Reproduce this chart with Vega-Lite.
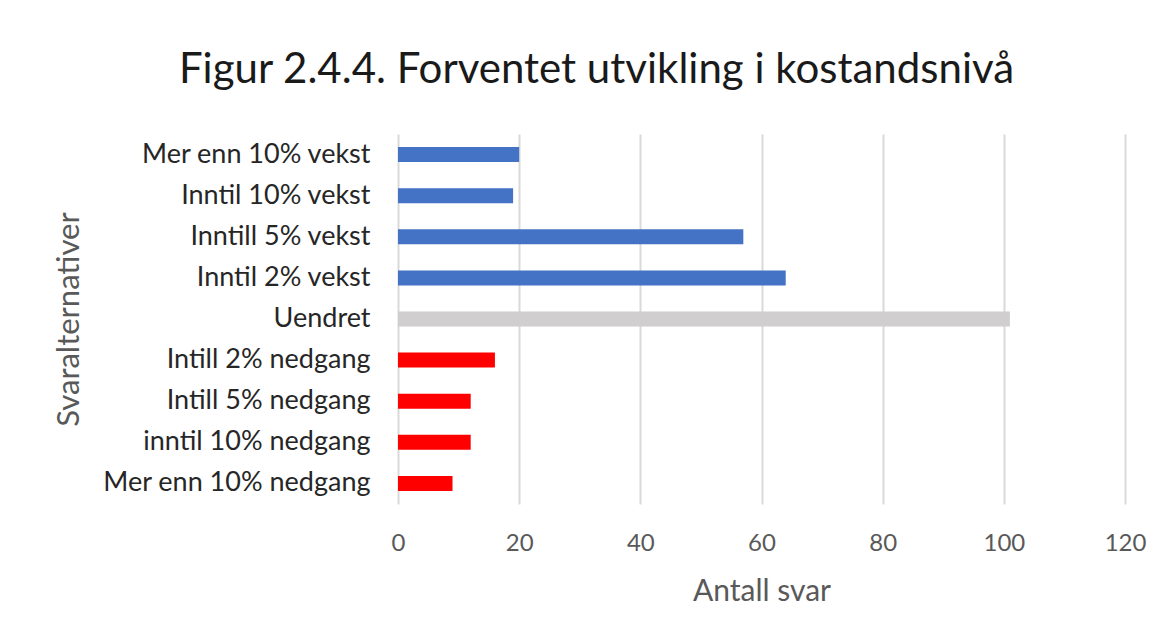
{
  "$schema": "https://vega.github.io/schema/vega-lite/v6.json",
  "width": 727,
  "height": 370,
  "autosize": {"type": "none"},
  "padding": {"left": 398, "top": 134, "right": 45, "bottom": 138},
  "background": "white",
  "title": {
    "text": "Figur 2.4.4. Forventet utvikling i kostandsnivå",
    "font": "Lato",
    "fontSize": 42,
    "fontWeight": "normal",
    "color": "#1a1a1a",
    "anchor": "middle",
    "dx": -165,
    "offset": 42
  },
  "data": {
    "values": [
      {"svar": "Mer enn 10% vekst", "antall": 20, "gruppe": "vekst"},
      {"svar": "Inntil 10% vekst", "antall": 19, "gruppe": "vekst"},
      {"svar": "Inntill 5% vekst", "antall": 57, "gruppe": "vekst"},
      {"svar": "Inntil 2% vekst", "antall": 64, "gruppe": "vekst"},
      {"svar": "Uendret", "antall": 101, "gruppe": "uendret"},
      {"svar": "Intill 2% nedgang", "antall": 16, "gruppe": "nedgang"},
      {"svar": "Intill 5% nedgang", "antall": 12, "gruppe": "nedgang"},
      {"svar": "inntil 10% nedgang", "antall": 12, "gruppe": "nedgang"},
      {"svar": "Mer enn 10% nedgang", "antall": 9, "gruppe": "nedgang"}
    ]
  },
  "mark": {"type": "bar", "size": 15},
  "encoding": {
    "y": {
      "field": "svar",
      "type": "nominal",
      "sort": null,
      "title": "Svaralternativer",
      "axis": {
        "labelFont": "Lato",
        "labelFontSize": 27,
        "labelColor": "#262626",
        "labelPadding": 28,
        "labelLimit": 500,
        "ticks": false,
        "domain": false,
        "titleFont": "Lato",
        "titleFontSize": 31,
        "titleFontWeight": "normal",
        "titleColor": "#595959",
        "titlePadding": 113
      }
    },
    "x": {
      "field": "antall",
      "type": "quantitative",
      "title": "Antall svar",
      "scale": {"domain": [0, 120]},
      "axis": {
        "values": [0, 20, 40, 60, 80, 100, 120],
        "labelFont": "Lato",
        "labelFontSize": 24,
        "labelColor": "#595959",
        "labelPadding": 27,
        "labelFlush": false,
        "ticks": false,
        "domain": false,
        "grid": true,
        "gridColor": "#d9d9d9",
        "gridWidth": 2,
        "titleFont": "Lato",
        "titleFontSize": 30,
        "titleFontWeight": "normal",
        "titleColor": "#595959",
        "titlePadding": 21
      }
    },
    "color": {
      "field": "gruppe",
      "type": "nominal",
      "scale": {"domain": ["vekst", "uendret", "nedgang"], "range": ["#4472C4", "#D0CECE", "#FF0000"]},
      "legend": null
    }
  },
  "config": {"view": {"stroke": null}}
}
